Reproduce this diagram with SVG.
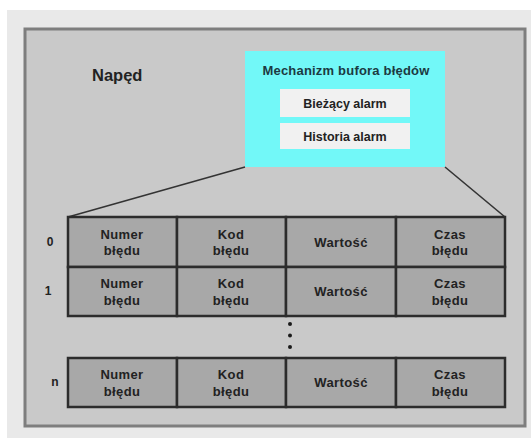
<svg xmlns="http://www.w3.org/2000/svg" width="531" height="438" viewBox="0 0 531 438">
  <style>
    .t { font-family: "Liberation Sans", Arial, sans-serif; font-weight: bold; fill: #222; }
    .cell { fill: #a8a8a8; stroke: #2c2c2c; stroke-width: 2.5; }
    .cellt { font-size: 13px; letter-spacing: 0.4px; text-anchor: middle; }
    .idx { font-size: 12px; text-anchor: middle; }
    .sub { fill: #f1f1f1; }
    .link { stroke: #333; stroke-width: 1.6; fill: none; }
  </style>

  <!-- page background -->
  <rect x="0" y="0" width="531" height="438" fill="#ffffff"/>
  <rect x="7" y="10" width="524" height="428" fill="#e9e9e9"/>

  <!-- drive enclosure -->
  <g id="drive">
    <rect x="25" y="29" width="500" height="397" fill="#c9c9c9" stroke="#7e7e7e" stroke-width="3"/>
    <text class="t" x="92" y="81" font-size="16.5">Napęd</text>
  </g>

  <!-- fault buffer mechanism -->
  <g id="buffer">
    <rect x="245" y="51" width="200" height="116" fill="#72f8f8"/>
    <text class="t" x="346" y="75" font-size="13" letter-spacing="0.2" style="fill:#1c3a42" text-anchor="middle">Mechanizm bufora błędów</text>
  </g>
  <g id="current-alarm">
    <rect class="sub" x="280" y="89" width="130" height="28"/>
    <text class="t" x="345" y="107.5" font-size="12.5" text-anchor="middle">Bieżący alarm</text>
  </g>
  <g id="alarm-history">
    <rect class="sub" x="280" y="123" width="130" height="26"/>
    <text class="t" x="345" y="140.5" font-size="12.5" text-anchor="middle">Historia alarm</text>
  </g>

  <!-- expansion lines from the buffer to the record table -->
  <g id="connectors">
    <line class="link" x1="245" y1="167" x2="68" y2="217"/>
    <line class="link" x1="445" y1="167" x2="505" y2="217"/>
  </g>

  <!-- record 0 -->
  <g id="row-0">
    <text class="t idx" x="50" y="246">0</text>
    <rect class="cell" x="68" y="217" width="109" height="50"/>
    <rect class="cell" x="177" y="217" width="109" height="50"/>
    <rect class="cell" x="286" y="217" width="110" height="50"/>
    <rect class="cell" x="396" y="217" width="109" height="50"/>
    <text class="t cellt" x="122" y="238.5">Numer</text>
    <text class="t cellt" x="122" y="255">błędu</text>
    <text class="t cellt" x="231" y="238.5">Kod</text>
    <text class="t cellt" x="231" y="255">błędu</text>
    <text class="t cellt" x="341" y="247">Wartość</text>
    <text class="t cellt" x="450" y="238.5">Czas</text>
    <text class="t cellt" x="450" y="255">błędu</text>
  </g>

  <!-- record 1 -->
  <g id="row-1">
    <text class="t idx" x="48" y="295">1</text>
    <rect class="cell" x="68" y="267" width="109" height="49"/>
    <rect class="cell" x="177" y="267" width="109" height="49"/>
    <rect class="cell" x="286" y="267" width="110" height="49"/>
    <rect class="cell" x="396" y="267" width="109" height="49"/>
    <text class="t cellt" x="122" y="288">Numer</text>
    <text class="t cellt" x="122" y="304.5">błędu</text>
    <text class="t cellt" x="231" y="288">Kod</text>
    <text class="t cellt" x="231" y="304.5">błędu</text>
    <text class="t cellt" x="341" y="296">Wartość</text>
    <text class="t cellt" x="450" y="288">Czas</text>
    <text class="t cellt" x="450" y="304.5">błędu</text>
  </g>

  <!-- ellipsis -->
  <g id="ellipsis" fill="#1a1a1a">
    <circle cx="290" cy="324" r="2"/>
    <circle cx="290" cy="335.5" r="2"/>
    <circle cx="290" cy="347" r="2"/>
  </g>

  <!-- record n -->
  <g id="row-n">
    <text class="t idx" x="55" y="386">n</text>
    <rect class="cell" x="68" y="358" width="109" height="49"/>
    <rect class="cell" x="177" y="358" width="109" height="49"/>
    <rect class="cell" x="286" y="358" width="110" height="49"/>
    <rect class="cell" x="396" y="358" width="109" height="49"/>
    <text class="t cellt" x="122" y="379">Numer</text>
    <text class="t cellt" x="122" y="395.5">błędu</text>
    <text class="t cellt" x="231" y="379">Kod</text>
    <text class="t cellt" x="231" y="395.5">błędu</text>
    <text class="t cellt" x="341" y="387">Wartość</text>
    <text class="t cellt" x="450" y="379">Czas</text>
    <text class="t cellt" x="450" y="395.5">błędu</text>
  </g>
</svg>
